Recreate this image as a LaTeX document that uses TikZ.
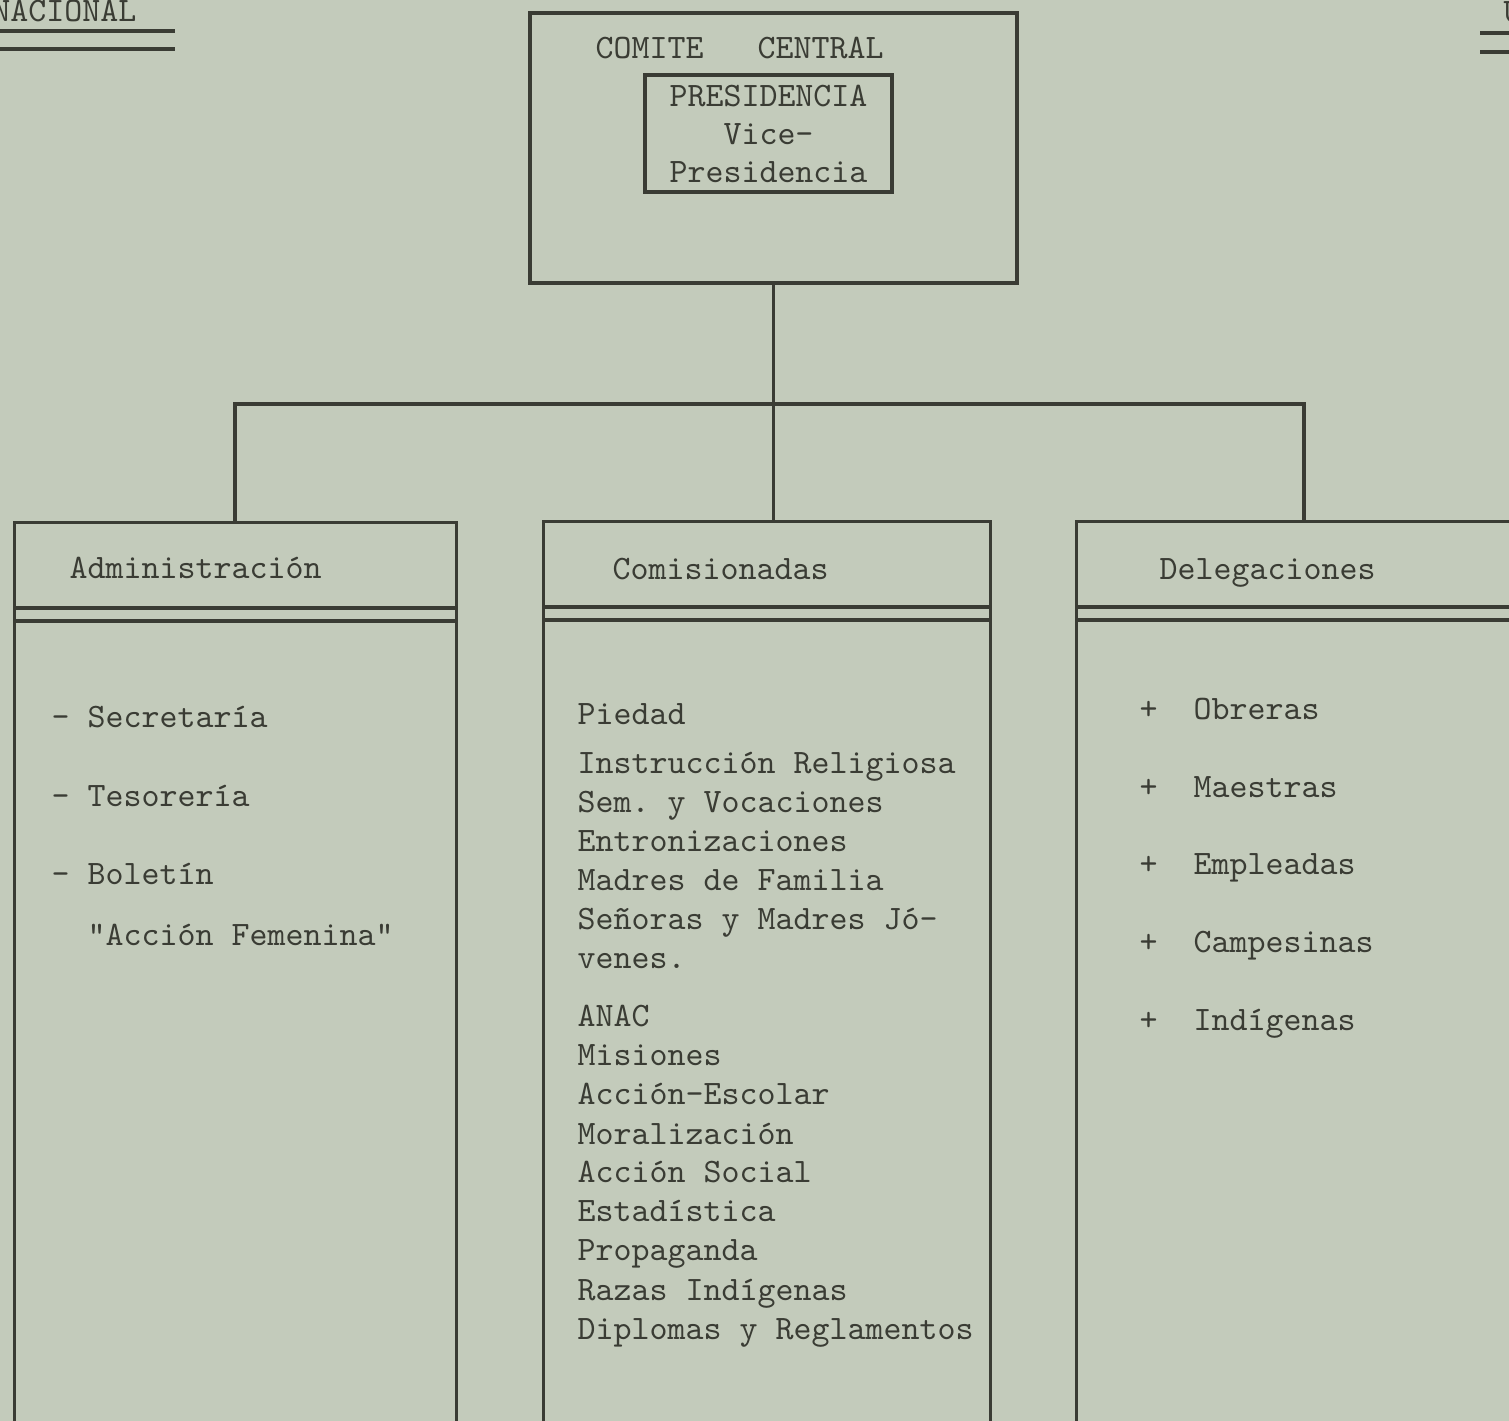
\documentclass[tikz,border=0pt]{standalone}
\usepackage{fontspec}
\usepackage{tikz}
\usetikzlibrary{positioning,backgrounds}
\definecolor{papel}{RGB}{195,203,187}
\definecolor{tinta}{RGB}{58,60,52}
\newcommand{\maquina}{\fontsize{9.75pt}{10.8pt}\selectfont\ttfamily\frenchspacing\addfontfeature{FakeBold=0.5}}
\tikzset{
  caja/.style={ draw=tinta, line width=0.9pt, inner sep=0pt }
}
\tikzset{
  columna/.style={ caja, anchor=north west, minimum height=9.3cm }
}
\tikzset{
  txt/.style={ anchor=base west, inner sep=0pt, text=tinta, font=\maquina }
}
\tikzset{
  regla/.style={ draw=tinta, line width=1.2pt }
}
\tikzset{
  linea/.style={ draw=tinta, line width=1pt }
}

\begin{document}
\begin{tikzpicture}[y=1cm, x=1cm]
      \fill[papel] (0,0) rectangle (15.09,-14.21);
      \useasboundingbox (0,0) rectangle (15.09,-14.21);

      % cabecera de la hoja
      \node[txt, anchor=base east] (nac) at (1.37,-0.22) {NACIONAL};
      \draw[regla] (0,-0.31) -- (1.75,-0.31);
      \draw[regla] (0,-0.49) -- (1.75,-0.49);
      \node[txt] (letraU) at (15.03,-0.23) {U};
      \draw[regla] (14.80,-0.33) -- (15.09,-0.33);
      \draw[regla] (14.80,-0.52) -- (15.09,-0.52);

      % comite central
      \node[caja, minimum width=4.87cm, minimum height=2.70cm] (cc) at (7.735,-1.48) {};
      \node[txt] (cctit) at (5.95,-0.59) {COMITE\ \ \ CENTRAL};
      \node[caja, line width=1pt, text=tinta, font=\maquina, align=center,
            minimum width=2.47cm, minimum height=1.17cm] (pres) at (7.685,-1.335)
            {PRESIDENCIA\\Vice-\\Presidencia};

      % las tres columnas
      \node[columna, minimum width=4.42cm] (adm) at (0.13,-5.21) {};
      \node[columna, minimum width=4.47cm] (com) at (5.42,-5.20) {};
      \node[columna, minimum width=4.70cm] (del) at (10.75,-5.20) {};

      \draw[regla] ([yshift=-8.7mm]adm.north west) -- ([yshift=-8.7mm]adm.north east);
      \draw[regla] ([yshift=-10mm]adm.north west) -- ([yshift=-10mm]adm.north east);
      \draw[regla] ([yshift=-8.7mm]com.north west) -- ([yshift=-8.7mm]com.north east);
      \draw[regla] ([yshift=-10mm]com.north west) -- ([yshift=-10mm]com.north east);
      \draw[regla] ([yshift=-8.7mm]del.north west) -- ([yshift=-8.7mm]del.north east);
      \draw[regla] ([yshift=-10mm]del.north west) -- ([yshift=-10mm]del.north east);

      % conexiones
      \coordinate (ramaA) at (2.35,-4.04);
      \coordinate (ramaD) at (13.04,-4.04);
      \draw[linea] (cc.south) -- (cc.south |- com.north);
      \draw[linea] (ramaA |- adm.north) -- (ramaA) -- (ramaD) -- (ramaD |- del.north);

      % titulos
      \node[txt] (hadm) at (0.69,-5.79) {Administración};
      \node[txt] (hcom) at (6.12,-5.80) {Comisionadas};
      \node[txt] (hdel) at (11.59,-5.80) {Delegaciones};

      % administracion
      \node[txt] (secr) at (0.51,-7.28) {- Secretaría};
      \node[txt] (teso) at (0.51,-8.07) {- Tesorería};
      \node[txt] (bole) at (0.51,-8.85) {- Boletín};
      \node[txt] (femn) at (0.87,-9.46) {"Acción Femenina"};

      % comisionadas
      \node[txt] (pied) at (5.77,-7.25) {Piedad};
      \node[txt] (inst) at (5.77,-7.74) {Instrucción Religiosa};
      \node[txt] (semv) at (5.77,-8.13) {Sem. y Vocaciones};
      \node[txt] (entr) at (5.77,-8.52) {Entronizaciones};
      \node[txt] (madr) at (5.77,-8.91) {Madres de Familia};
      \node[txt] (seno) at (5.77,-9.30) {Señoras y Madres Jó-};
      \node[txt] (vene) at (5.77,-9.69) {venes.};
      \node[txt] (anac) at (5.77,-10.27) {ANAC};
      \node[txt] (misi) at (5.77,-10.66) {Misiones};
      \node[txt] (aesc) at (5.77,-11.05) {Acción-Escolar};
      \node[txt] (mora) at (5.77,-11.44) {Moralización};
      \node[txt] (asoc) at (5.77,-11.83) {Acción Social};
      \node[txt] (esta) at (5.77,-12.22) {Estadística};
      \node[txt] (prop) at (5.77,-12.61) {Propaganda};
      \node[txt] (raza) at (5.77,-13.00) {Razas Indígenas};
      \node[txt] (dipl) at (5.77,-13.39) {Diplomas y Reglamentos};

      % delegaciones
      \node[txt] (obre) at (11.39,-7.20) {+\ \ Obreras};
      \node[txt] (maes) at (11.39,-7.98) {+\ \ Maestras};
      \node[txt] (empl) at (11.39,-8.75) {+\ \ Empleadas};
      \node[txt] (camp) at (11.39,-9.53) {+\ \ Campesinas};
      \node[txt] (indi) at (11.39,-10.31) {+\ \ Indígenas};
    \end{tikzpicture}
\end{document}
